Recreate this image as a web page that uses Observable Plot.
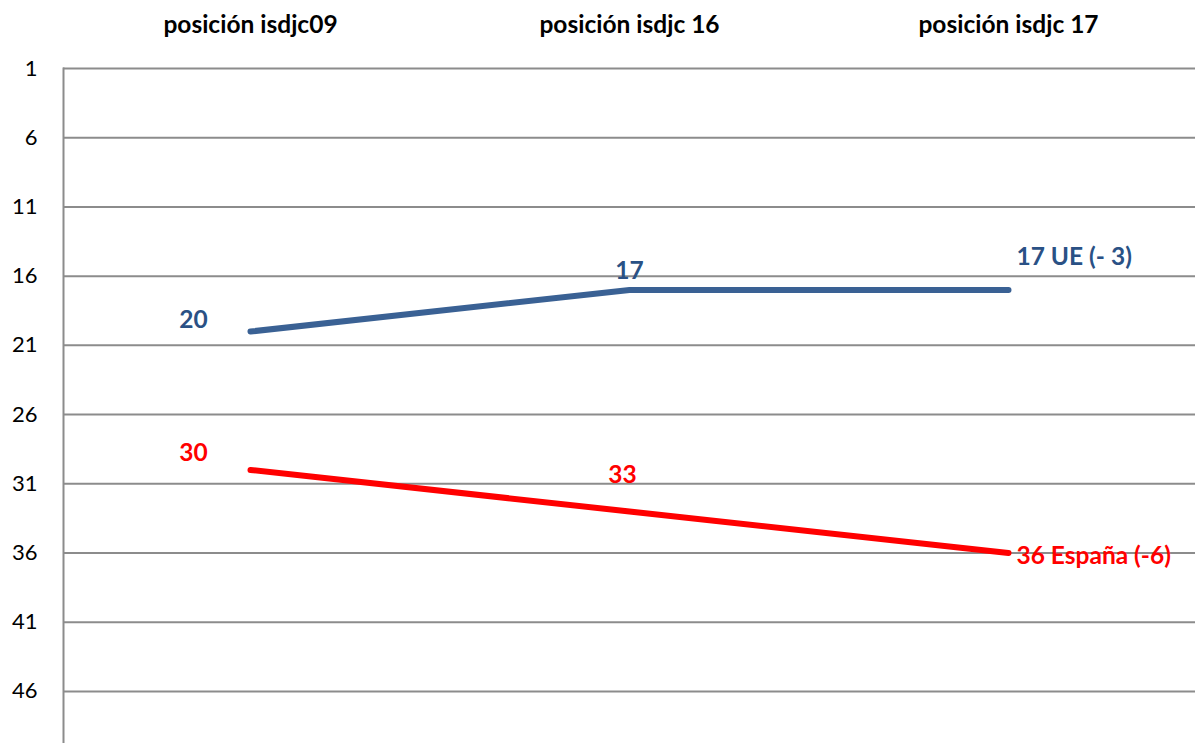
<!DOCTYPE html>
<html><head><meta charset="utf-8">
<script src="https://cdn.jsdelivr.net/npm/d3@7"></script>
<script src="https://cdn.jsdelivr.net/npm/@observablehq/plot@0.6"></script>
<style>body{margin:0;background:#fff} svg{display:block}</style>
</head><body><div id="chart"></div>
<script>
const categories = ["posición isdjc09", "posición isdjc 16", "posición isdjc 17"];
const ueValues = [20, 17, 17];
const espanaValues = [30, 33, 36];
const ueLabels = ["20", "17", "17 UE (- 3)"];
const espanaLabels = ["30", "33", "36 España (-6)"];
const yTicks = [1, 6, 11, 16, 21, 26, 31, 36, 41, 46];

const ue = categories.map((c, i) => ({cat: c, value: ueValues[i], label: ueLabels[i]}));
const es = categories.map((c, i) => ({cat: c, value: espanaValues[i], label: espanaLabels[i]}));

const blueLine = "#3A6194", blueText = "#2A5185", red = "#FF0000", grid = "#8C8C8C";

// per-point label placement: [dx, dy, textAnchor]
const ueOff = [[-57, -11, "middle"], [0, -19, "middle"], [8, -33, "start"]];
const esOff = [[-57, -17, "middle"], [-7, -36, "middle"], [8, 3, "start"]];

const labelMarks = (rows, offs, fill) => rows.map((r, i) => Plot.text([r], {
  x: "cat", y: "value", text: "label", dx: offs[i][0], dy: offs[i][1],
  textAnchor: offs[i][2], lineAnchor: "middle", fill, fontWeight: "bold", fontSize: 24.5
}));

const chart = Plot.plot({
  width: 1195, height: 743,
  marginTop: 68, marginBottom: 0, marginLeft: 63, marginRight: 0,
  style: {fontFamily: "Lato, 'Open Sans', sans-serif", fontSize: "22px", background: "#fff"},
  x: {type: "point", domain: categories, padding: 0.49, axis: null},
  y: {domain: [1, 49.76], range: [68, 743], axis: null},
  marks: [
    Plot.ruleY(yTicks, {stroke: grid, strokeWidth: 2}),
    Plot.frame({anchor: "left", stroke: grid, strokeWidth: 2}),
    Plot.axisY(yTicks, {anchor: "left", tickSize: 0, tickPadding: 26, fontSize: 22, fill: "#000", label: null}),
    Plot.text(categories, {x: d => d, frameAnchor: "top", lineAnchor: "middle", dy: -43, fontWeight: "bold", fontSize: 24.5, fill: "#000"}),
    Plot.line(ue, {x: "cat", y: "value", stroke: blueLine, strokeWidth: 6, strokeLinecap: "round"}),
    Plot.line(es, {x: "cat", y: "value", stroke: red, strokeWidth: 6, strokeLinecap: "round"}),
    ...labelMarks(ue, ueOff, blueText),
    ...labelMarks(es, esOff, red)
  ]
});
document.getElementById("chart").appendChild(chart);
</script>
</body></html>
